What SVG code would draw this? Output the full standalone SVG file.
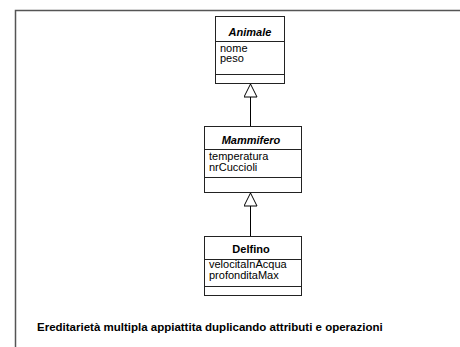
<svg xmlns="http://www.w3.org/2000/svg" width="460" height="347" viewBox="0 0 460 347">
<style>
.box{fill:#fff;stroke:#222;stroke-width:1}
.sep{stroke:#222;stroke-width:1}
.t{font-family:"Liberation Sans",Arial,sans-serif;font-size:11px;fill:#000}
.ti{font-family:"Liberation Sans",Arial,sans-serif;font-size:11px;font-weight:bold;font-style:italic;fill:#000}
.tb{font-family:"Liberation Sans",Arial,sans-serif;font-size:11px;font-weight:bold;fill:#000}
.conn{stroke:#000;stroke-width:1;fill:none}
.frame{stroke:#555;stroke-width:1.5;fill:none}
</style>
<defs>
<marker id="gen" markerWidth="16" markerHeight="14" refX="14" refY="7" orient="auto" markerUnits="userSpaceOnUse">
<path d="M1,0.5 L14,7 L1,13.5 Z" fill="#fff" stroke="#000" stroke-width="1"/>
</marker>
</defs>
<rect width="460" height="347" fill="#fff"/>
<path class="frame" d="M15.5,347 L15.5,10.5 L460,10.5"/>
<g id="Animale">
<rect class="box" x="215.5" y="16.5" width="69" height="67"/>
<line class="sep" x1="215.5" y1="41.5" x2="284.5" y2="41.5"/>
<line class="sep" x1="215.5" y1="74.5" x2="284.5" y2="74.5"/>
<text class="ti" x="250" y="36" text-anchor="middle">Animale</text>
<text class="t" x="220" y="51.5">nome</text>
<text class="t" x="220" y="62">peso</text>
</g>
<g id="Mammifero">
<rect class="box" x="204.5" y="126.5" width="97" height="66"/>
<line class="sep" x1="204.5" y1="149.5" x2="301.5" y2="149.5"/>
<line class="sep" x1="204.5" y1="177.5" x2="301.5" y2="177.5"/>
<text class="ti" x="251" y="144" text-anchor="middle">Mammifero</text>
<text class="t" x="209" y="160">temperatura</text>
<text class="t" x="209" y="170.7">nrCuccioli</text>
</g>
<g id="Delfino">
<rect class="box" x="204.5" y="236.5" width="97" height="59"/>
<line class="sep" x1="204.5" y1="259.5" x2="301.5" y2="259.5"/>
<line class="sep" x1="204.5" y1="286.5" x2="301.5" y2="286.5"/>
<text class="tb" x="251" y="253" text-anchor="middle">Delfino</text>
<text class="t" x="209" y="268.3">velocitaInAcqua</text>
<text class="t" x="209" y="279.3">profonditaMax</text>
</g>
<g id="connectors">
<line class="conn" x1="250.5" y1="126" x2="250.5" y2="84" marker-end="url(#gen)"/>
<line class="conn" x1="250.5" y1="236" x2="250.5" y2="193" marker-end="url(#gen)"/>
</g>
<text class="tb" x="37" y="331" style="font-size:11.5px">Ereditarietà multipla appiattita duplicando attributi e operazioni</text>
</svg>
